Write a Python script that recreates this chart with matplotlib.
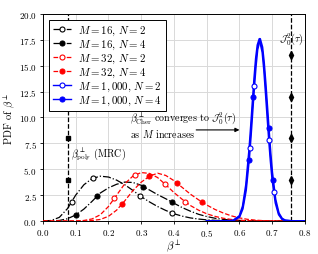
import matplotlib
matplotlib.use("Agg")
import matplotlib.pyplot as plt
from matplotlib.lines import Line2D

plt.rcParams["font.family"] = "serif"
plt.rcParams["font.serif"] = ["cmr10", "DejaVu Serif"]
plt.rcParams["mathtext.fontset"] = "cm"
plt.rcParams["axes.formatter.use_mathtext"] = True
plt.rcParams["font.size"] = 7

# PDF curves
x_m16_n2 = [0.0, 0.025, 0.05, 0.075, 0.1, 0.125, 0.15, 0.175, 0.2, 0.225, 0.25, 0.275, 0.3,
            0.325, 0.35, 0.375, 0.4, 0.425, 0.45, 0.475, 0.5, 0.55, 0.6, 0.65, 0.7, 0.8]
y_m16_n2 = [0, 0.05, 0.35, 1.2, 2.5, 3.5, 4.1, 4.33, 4.25, 3.95, 3.5, 2.95, 2.35,
            1.85, 1.4, 1.02, 0.70, 0.47, 0.30, 0.19, 0.11, 0.03, 0.01, 0, 0, 0]

x_m16_n4 = [0.0, 0.025, 0.05, 0.075, 0.1, 0.125, 0.15, 0.175, 0.2, 0.225, 0.25, 0.275, 0.3,
            0.325, 0.35, 0.375, 0.4, 0.425, 0.45, 0.475, 0.5, 0.525, 0.55, 0.575, 0.6, 0.65,
            0.7, 0.8]
y_m16_n4 = [0, 0.01, 0.05, 0.22, 0.58, 1.15, 1.9, 2.7, 3.2, 3.55, 3.76, 3.72, 3.45,
            3.0, 2.55, 2.15, 1.72, 1.3, 0.95, 0.65, 0.43, 0.27, 0.16, 0.09, 0.05, 0.01,
            0, 0]

x_m32_n2 = [0.0, 0.1, 0.125, 0.15, 0.175, 0.2, 0.225, 0.25, 0.275, 0.3, 0.325, 0.35, 0.375,
            0.4, 0.425, 0.45, 0.475, 0.5, 0.525, 0.55, 0.575, 0.6, 0.625, 0.65, 0.7, 0.8]
y_m32_n2 = [0, 0, 0.05, 0.2, 0.6, 1.4, 2.5, 3.6, 4.35, 4.68, 4.6, 4.2, 3.5,
            2.75, 2.1, 1.5, 1.05, 0.7, 0.45, 0.27, 0.15, 0.08, 0.03, 0.01, 0, 0]

x_m32_n4 = [0.0, 0.125, 0.15, 0.175, 0.2, 0.225, 0.25, 0.275, 0.3, 0.325, 0.35, 0.375, 0.4,
            0.425, 0.45, 0.475, 0.5, 0.525, 0.55, 0.575, 0.6, 0.625, 0.65, 0.675, 0.7, 0.75,
            0.8]
y_m32_n4 = [0, 0, 0.05, 0.15, 0.45, 1.05, 1.95, 2.95, 3.75, 4.32, 4.62, 4.4, 3.9,
            3.25, 2.6, 2.05, 1.55, 1.12, 0.78, 0.5, 0.3, 0.16, 0.08, 0.03, 0.01, 0, 0]

x_m1000_n2 = [0.5, 0.56, 0.58, 0.6, 0.61, 0.62, 0.63, 0.635, 0.64, 0.645, 0.65, 0.655, 0.661,
              0.67, 0.675, 0.68, 0.685, 0.69, 0.695, 0.7, 0.71, 0.72, 0.73, 0.74, 0.76, 0.8]
y_m1000_n2 = [0, 0, 0.03, 0.49, 1.44, 3.5, 6.99, 9.19, 11.5, 13.76, 15.7, 17.0, 17.6,
              16.3, 14.6, 12.4, 10.1, 7.84, 5.8, 4.08, 1.75, 0.62, 0.18, 0.04, 0, 0]

x_m1000_n4 = [0.5, 0.56, 0.58, 0.6, 0.61, 0.62, 0.63, 0.635, 0.64, 0.645, 0.65, 0.655, 0.663,
              0.67, 0.675, 0.68, 0.685, 0.69, 0.695, 0.7, 0.71, 0.72, 0.73, 0.74, 0.76, 0.8]
y_m1000_n4 = [0, 0, 0.02, 0.39, 1.18, 2.97, 6.18, 8.28, 10.6, 12.9, 14.96, 16.55, 17.6,
              16.8, 15.3, 13.3, 11.05, 8.73, 6.57, 4.72, 2.1, 0.77, 0.24, 0.06, 0, 0]

# simulation markers
mx_m16_n2, my_m16_n2 = [0.088, 0.154, 0.296, 0.393], [1.87, 4.12, 2.39, 0.77]
mx_m16_n4, my_m16_n4 = [0.100, 0.166, 0.306, 0.394], [0.58, 2.42, 3.33, 1.87]
mx_m32_n2, my_m32_n2 = [0.217, 0.280, 0.373, 0.435], [2.2, 4.45, 3.57, 1.88]
mx_m32_n4, my_m32_n4 = [0.240, 0.325, 0.409, 0.485], [1.61, 4.30, 3.70, 1.81]
mx_m1000_n2, my_m1000_n2 = [0.631, 0.643, 0.690, 0.704], [7.02, 13.07, 7.83, 2.8]
mx_m1000_n4, my_m1000_n4 = [0.630, 0.642, 0.689, 0.702], [5.85, 11.95, 8.98, 3.96]

beta_poly = 0.0754
beta_j0 = 0.758
vline_marks = [4, 8, 12, 16]

labels = [r"$M=16$, $N=2$", r"$M=16$, $N=4$", r"$M=32$, $N=2$", r"$M=32$, $N=4$",
          r"$M=1,000$, $N=2$", r"$M=1,000$, $N=4$"]

series = [
    (x_m16_n2, y_m16_n2, mx_m16_n2, my_m16_n2, "k", "-.", 0.9, False),
    (x_m16_n4, y_m16_n4, mx_m16_n4, my_m16_n4, "k", "-.", 0.9, True),
    (x_m32_n2, y_m32_n2, mx_m32_n2, my_m32_n2, "red", "--", 0.9, False),
    (x_m32_n4, y_m32_n4, mx_m32_n4, my_m32_n4, "red", "--", 0.9, True),
    (x_m1000_n2, y_m1000_n2, mx_m1000_n2, my_m1000_n2, "blue", "-", 1.4, False),
    (x_m1000_n4, y_m1000_n4, mx_m1000_n4, my_m1000_n4, "blue", "-", 1.4, True),
]

fig = plt.figure(figsize=(3.18, 2.55), dpi=100)
ax = fig.add_axes([0.135, 0.1294, 0.824, 0.8118])

handles = []
for (xs, ys, mx, my, c, ls, lw, filled), lab in zip(series, labels):
    fc = c if filled else "white"
    ax.plot(xs, ys, color=c, ls=ls, lw=lw, zorder=3)
    ax.plot(mx, my, ls="none", marker="o", ms=3.6, mfc=fc, mec=c, mew=0.8, zorder=4)
    handles.append(Line2D([], [], color=c, ls=ls, lw=min(lw, 1.0), marker="o", ms=3.6,
                          mfc=fc, mec=c, mew=0.8, label=lab))

ax.axvline(beta_poly, color="k", ls="--", lw=0.9, zorder=2)
ax.plot([beta_poly] * len(vline_marks), vline_marks, ls="none", marker="s", ms=3.2,
        color="k", zorder=4)
ax.axvline(beta_j0, color="k", ls="--", lw=0.9, zorder=2)
ax.plot([beta_j0] * len(vline_marks), vline_marks, ls="none", marker="d", ms=3.6,
        color="k", zorder=4)

ax.text(beta_j0, 17.6, r"$\mathcal{J}_0^2(\tau)$", ha="center", va="center", fontsize=7.2)
ax.text(0.0855, 6.45, r"$\beta^{\perp}_{\rm poly}$ (MRC)", ha="left", va="center", fontsize=7.2)
ax.text(0.265, 9.32, r"$\beta^{\perp}_{\rm Cher}$ converges to $\mathcal{J}_0^2(\tau)$" + "\n"
        + r"as $M$ increases", ha="left", va="center", fontsize=7.2, linespacing=1.05)
ax.annotate("", xy=(0.600, 8.8), xytext=(0.468, 8.8),
            arrowprops=dict(arrowstyle="-|>", color="k", lw=0.8, mutation_scale=6,
                            shrinkA=0, shrinkB=0))

ax.set_xlim(0, 0.8)
ax.set_ylim(0, 20)
ax.set_xticks([0.0, 0.1, 0.2, 0.3, 0.4, 0.5, 0.6, 0.7, 0.8])
ax.set_yticks([0.0, 2.5, 5.0, 7.5, 10.0, 12.5, 15.0, 17.5, 20.0])
ax.tick_params(labelsize=6.5, width=0.6, length=2.5, pad=2)
ax.set_xlabel(r"$\beta^{\perp}$", fontsize=8, labelpad=0)
ax.set_ylabel(r"PDF of $\beta^{\perp}$", fontsize=7.5, labelpad=1)
ax.grid(True, color="#d9d9d9", lw=0.7)
ax.set_axisbelow(True)
for s in ax.spines.values():
    s.set_linewidth(0.7)

leg = ax.legend(handles=handles, loc="upper left", bbox_to_anchor=(0.024, 0.972),
                borderaxespad=0, fontsize=7.8, handlelength=1.7, labelspacing=0.07,
                borderpad=0.35, handletextpad=0.6, fancybox=False, framealpha=1,
                edgecolor="k")
leg.get_frame().set_linewidth(0.7)
leg.set_zorder(6)

fig.savefig("out.png", dpi=100)
